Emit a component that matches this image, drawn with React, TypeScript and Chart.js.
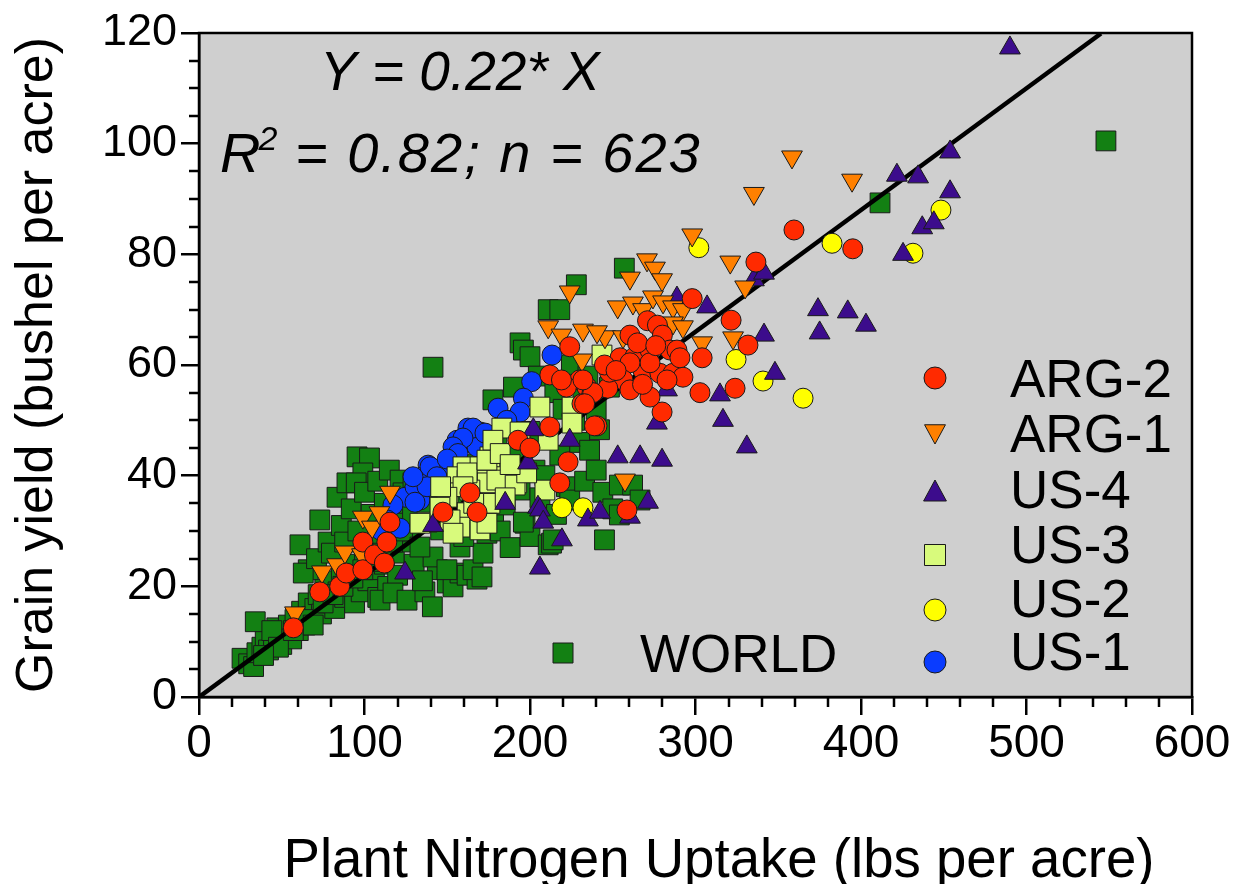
import React, { useEffect, useRef } from "react";
import { Chart, registerables } from "chart.js";
Chart.register(...registerables);

const FONT = "'Liberation Sans', Arial, Helvetica, sans-serif";

// x: plant N uptake (lbs/acre), y: grain yield (bu/acre)
const worldData: number[][] = [
  [26, 7], [30, 6], [33, 5.5], [35, 8], [38, 9], [40, 11], [34, 13.6], [42, 8.5], [45, 10], [47, 12.5],
  [50, 9.5], [52, 11.5], [54, 13], [56, 10.5], [58, 14], [60, 12], [62, 15.5], [64, 13], [66, 17], [68, 14.5],
  [70, 16], [72, 18.5], [74, 15], [76, 19.5], [78, 17], [80, 21], [82, 16], [84, 19], [86, 22], [88, 18],
  [90, 20.5], [92, 24], [94, 17], [96, 22], [98, 19], [100, 25], [102, 21], [104, 27], [106, 23], [108, 18],
  [110, 29], [112, 24], [114, 20], [116, 31], [118, 26], [120, 22], [122, 33], [124, 28], [126, 35], [128, 30],
  [130, 24], [132, 37], [134, 32], [44, 12], [48, 9], [57, 12], [63, 14], [69, 13], [75, 17], [81, 18.5],
  [87, 20], [93, 21.5], [99, 23], [105, 24.5], [111, 26], [117, 28], [123, 30], [129, 33], [136, 36], [39, 7.5],
  [61, 27.5], [73, 32], [83.4, 36.1], [89.4, 38.7], [95.5, 43.4], [103, 43.2], [99, 40.5], [95, 38.7], [66, 23], [63, 22.4],
  [71, 25], [78, 28], [86, 31], [92, 34], [100, 37], [108, 39], [115, 41], [121.5, 39.2], [123.3, 36.9], [129.3, 38.7],
  [80, 26], [88, 28], [96, 30], [104, 33], [112, 35],
  [109.4, 17.5], [117.2, 18.8], [125.7, 17.5], [136.5, 19], [141, 16.3], [144, 23], [150, 20.6], [153.5, 19.9], [157.7, 22.4], [162, 22],
  [168, 21.3], [135, 21], [141.4, 25.3], [133.5, 27.1], [149.8, 23], [157.7, 27.1], [165.6, 23], [171.6, 26], [174, 29.6], [171, 21.7],
  [138, 35], [142, 38], [146, 30.2], [150, 33], [155, 36], [158, 34.7], [163.7, 32], [160, 29], [168, 31], [172, 35],
  [178, 33], [182, 30], [185, 34.7], [188, 27], [194, 37.4], [197, 31.4], [200, 29], [203, 41], [206, 36], [209, 40],
  [211, 27.5], [213, 27.8], [216, 33], [218, 43.7], [222, 38], [224, 35.6], [227, 50], [230, 46], [233, 39], [236, 44.6],
  [240, 41], [242, 48.3], [244, 37], [245, 28.4], [250, 34], [254, 38.3], [254, 32.9], [262, 38.3], [266.5, 35.6],
  [141.4, 59.6], [194, 64], [196, 62.7], [200, 61.5], [211, 70], [218, 70], [228, 74.5], [257, 77.5],
  [177.6, 53.7], [185, 50], [190, 56], [205, 58], [215, 55], [225, 60], [235, 58], [196, 31.6], [214, 28.4],
  [220, 52], [232, 54], [240, 52], [248, 56], [170, 45], [160, 42], [150, 40], [180, 47], [190, 44], [200, 48],
  [411.5, 89.3], [548, 100.5],
];

const us3Data: number[][] = [
  [206, 52.4], [183, 48.6], [194, 47.9], [211, 46.4], [225.4, 52.4], [225.4, 49.5], [159.5, 41.6], [169.8, 41.6], [180, 41.6], [175.8, 43.4],
  [169.8, 39.2], [174, 38.7], [192, 38.7], [155.9, 39.8], [150.5, 36.9], [162, 33.3], [157.7, 30.7], [151.7, 32], [137.8, 31.6], [153.5, 29.6],
  [169.8, 30.2], [175.8, 35], [209, 37.4], [180, 39.2], [162, 39.2], [163.7, 37.4], [177.6, 46.4], [243.5, 61.8], [162, 40.5], [159.5, 38],
  [149.8, 36.1], [174, 42.8], [182, 44], [191, 38.3], [145.6, 34.3], [198, 40.5], [133.5, 31.4], [174, 31.4], [185, 36], [188, 42],
  [166, 35], [146, 38],
];

const us1Data: number[][] = [
  [213.3, 61.8], [201, 57], [196, 54], [180.7, 52.2], [194, 51.5], [162.5, 48.6], [169.8, 47.9], [155.9, 46.4], [162, 45.9], [168, 45.2],
  [138.4, 41.9], [145.6, 41], [141.4, 39.2], [135.3, 39.8], [147.4, 38.7], [129.3, 37], [133.5, 35.6], [124.5, 36.1], [117.2, 34.7], [113.6, 32],
  [165.6, 48.6], [172.8, 47.7], [159.5, 46.8], [153.5, 45.2], [156.5, 44], [139.6, 41.6], [143.8, 39.8], [130.5, 38], [137.8, 38], [129.3, 39.8],
  [130.5, 35.2], [109.4, 30.2], [121.5, 30.5], [186, 50], [150, 43],
];

const us2Data: number[][] = [
  [302, 81.2], [382.5, 82], [448.3, 88], [431.4, 80.2], [324.5, 61], [340.8, 57.1], [365, 54], [219.3, 34.2], [232, 34.2],
];

const us4Data: number[][] = [
  [124.5, 22.4], [141.4, 31], [185, 35], [198.8, 42.3], [202, 48.3], [204.8, 34.3], [206, 33.8], [208, 31.6], [206, 23.3], [219.3, 28.4],
  [224, 46.4], [235, 32], [242.3, 33.4], [253, 43.4], [260.4, 32.5], [266.5, 43.4], [271.3, 35.2], [276.7, 49.5], [279.8, 42.8], [282.8, 55.5],
  [288.8, 72.1], [307, 70.5], [314.8, 54.6], [316.6, 50], [331, 45.2], [335.3, 75.4], [341.4, 76.6], [341.4, 65.4], [348, 58.5], [374, 70],
  [375, 65.8], [392, 69.6], [403, 67.2], [425.4, 80], [437, 84.8], [444, 85.7], [453.8, 91.3], [421.7, 94.3], [434.5, 94], [453.8, 98.5],
  [490, 117.3],
];

const arg1Data: number[][] = [
  [58, 15.2], [74.3, 22.6], [83.4, 23.9], [88.2, 26.2], [98.5, 25.7], [99, 32.5], [104.5, 30.7], [109, 33.3], [115.4, 37], [298, 83.5],
  [321, 78.6], [270.7, 79], [275.5, 77.5], [260.4, 75.7], [279.8, 75.4], [224, 73.2], [211, 66.9], [232, 66.3], [219, 65.4], [245.3, 65.1],
  [253, 70.5], [262.2, 71.2], [268.3, 70], [274.3, 72.3], [280.4, 71.4], [286.4, 70.5], [292.4, 70], [286.4, 67.6], [292.4, 66.9], [304, 64],
  [322.7, 64.9], [256.2, 65.1], [231.4, 60.9], [257.4, 39.2], [240.5, 66], [358.3, 97.6], [394.6, 93.4], [335.3, 91], [330, 74.1],
];

const arg2Data: number[][] = [
  [57, 12.5], [73, 19], [85, 20], [89, 22.4], [99, 23], [99, 28], [106, 25.7], [112, 24.2], [113.5, 28], [115.4, 31.6],
  [147.4, 33.4], [163.7, 36.9], [168, 33.4], [192.7, 46.4], [200, 45], [212, 48.8], [223, 42.5], [218, 38.7], [212, 58.2], [224, 63.3],
  [230, 57.3], [234.4, 56], [237.5, 55], [231.4, 53], [222, 56], [219, 57.3], [240.5, 49], [279.8, 51.5], [258.6, 33.8], [260.4, 65.4],
  [271, 68], [277, 67.2], [280, 65.4], [298, 72], [321.5, 68.1], [336.5, 78.6], [331.7, 63.6], [304, 61.3], [254.4, 61.3], [263.4, 61.5],
  [272.5, 62.7], [284.6, 62.7], [288.8, 62.7], [268.3, 59], [278.5, 58.5], [286.4, 58.5], [292.4, 57.8], [272.5, 60.4], [260.4, 60.4], [256.2, 57.3],
  [260.4, 55.5], [247, 55.8], [238, 55], [232, 57.3], [233, 53], [272.5, 54.2], [282.8, 57.3], [302.7, 55], [323.9, 55.8], [239, 49],
  [248, 58.7], [290.6, 61.3], [359.5, 84.4], [395, 81], [245, 60], [265, 64], [276, 63.5], [268, 56.5], [252, 59],
];

const fitLine: number[][] = [[0, 0], [545, 119.9]];

const xTicksMajor = [0, 100, 200, 300, 400, 500, 600];
const yTicksMajor = [0, 20, 40, 60, 80, 100, 120];

const legendItems = [
  { label: "ARG-2", shape: "circle", color: "#ff2a00" },
  { label: "ARG-1", shape: "down", color: "#ff8000" },
  { label: "US-4", shape: "up", color: "#3c0c8c" },
  { label: "US-3", shape: "square", color: "#d8fa7c" },
  { label: "US-2", shape: "circle", color: "#ffff00" },
  { label: "US-1", shape: "circle", color: "#0a3cff" },
];

const toXY = (arr: number[][]) => arr.map(([x, y]) => ({ x, y }));

function drawShape(ctx: CanvasRenderingContext2D, shape: string, x: number, y: number, s: number, color: string) {
  ctx.save();
  ctx.fillStyle = color;
  ctx.strokeStyle = "#1a1a1a";
  ctx.lineWidth = 1;
  ctx.beginPath();
  if (shape === "circle") {
    ctx.arc(x, y, s, 0, Math.PI * 2);
  } else if (shape === "square") {
    ctx.rect(x - s, y - s, 2 * s, 2 * s);
  } else if (shape === "up") {
    ctx.moveTo(x, y - s);
    ctx.lineTo(x + s * 0.95, y + s * 0.75);
    ctx.lineTo(x - s * 0.95, y + s * 0.75);
    ctx.closePath();
  } else if (shape === "down") {
    ctx.moveTo(x, y + s);
    ctx.lineTo(x + s * 0.95, y - s * 0.75);
    ctx.lineTo(x - s * 0.95, y - s * 0.75);
    ctx.closePath();
  }
  ctx.fill();
  ctx.stroke();
  ctx.restore();
}

const decorPlugin = {
  id: "decor",
  beforeDraw(chart: any) {
    const { ctx, chartArea } = chart;
    const { left, top, right, bottom } = chartArea;
    ctx.save();
    ctx.fillStyle = "#cfcfcf";
    ctx.fillRect(left, top, right - left, bottom - top);
    ctx.restore();
  },
  afterDraw(chart: any) {
    const { ctx, chartArea, scales } = chart;
    const { left, top, right, bottom } = chartArea;
    const xs = scales.x;
    const ys = scales.y;
    ctx.save();
    // plot frame
    ctx.strokeStyle = "#000";
    ctx.lineWidth = 2.5;
    ctx.strokeRect(left, top, right - left, bottom - top);
    // minor ticks
    ctx.lineWidth = 2.5;
    ctx.beginPath();
    for (let v = 20; v < 600; v += 20) {
      if (v % 100 === 0) continue;
      const px = Math.round(xs.getPixelForValue(v));
      ctx.moveTo(px, bottom);
      ctx.lineTo(px, bottom + 10);
    }
    for (let v = 5; v < 120; v += 5) {
      if (v % 20 === 0) continue;
      const py = Math.round(ys.getPixelForValue(v));
      ctx.moveTo(left, py);
      ctx.lineTo(left - 10, py);
    }
    ctx.stroke();

    // x axis title
    ctx.fillStyle = "#000";
    ctx.textAlign = "center";
    ctx.textBaseline = "alphabetic";
    ctx.font = `54.6px ${FONT}`;
    ctx.fillText("Plant Nitrogen Uptake (lbs per acre)", 719, 877);

    // equation annotations
    ctx.textAlign = "left";
    ctx.font = `italic 55px ${FONT}`;
    ctx.fillText("Y = 0.22* X", 320, 90);
    ctx.font = `italic 56px ${FONT}`;
    ctx.fillText("R", 220, 172);
    const wR = ctx.measureText("R").width;
    ctx.font = `italic 34px ${FONT}`;
    ctx.fillText("2", 220 + wR - 2, 150);
    const w2 = ctx.measureText("2").width;
    ctx.font = `italic 56px ${FONT}`;
    (ctx as any).letterSpacing = "2px";
    ctx.fillText(" = 0.82; n = 623", 220 + wR - 2 + w2, 172);
    (ctx as any).letterSpacing = "0px";

    // legend
    ctx.font = `53px ${FONT}`;
    const rows = [
      { my: 378, ty: 397, s: 11 },
      { my: 433, ty: 452, s: 11 },
      { my: 492, ty: 508, s: 12 },
      { my: 555, ty: 563, s: 10.5 },
      { my: 610, ty: 617, s: 11 },
      { my: 662, ty: 670, s: 11 },
    ];
    legendItems.forEach((it, i) => {
      const r = rows[i];
      drawShape(ctx, it.shape, 935, r.my, r.s, it.color);
      ctx.fillStyle = "#000";
      ctx.fillText(it.label, 1010, r.ty);
    });
    drawShape(ctx, "square", 563, 653, 10, "#138013");
    ctx.fillStyle = "#000";
    ctx.fillText("WORLD", 640, 672);
    ctx.restore();
  },
};

export default function App() {
  const ref = useRef<HTMLCanvasElement>(null);
  useEffect(() => {
    document.body.style.margin = "0";
    const common = { borderColor: "#1a1a1a", borderWidth: 1, showLine: false };
    const chart = new Chart(ref.current as HTMLCanvasElement, {
      type: "scatter",
      data: {
        datasets: [
          { label: "ARG-2", data: toXY(arg2Data), backgroundColor: "#ff2a00", pointStyle: "circle", pointRadius: 10, order: 1, ...common },
          { label: "ARG-1", data: toXY(arg1Data), backgroundColor: "#ff8000", pointStyle: "triangle", pointRotation: 180, pointRadius: 12, order: 2, ...common },
          { label: "US-4", data: toXY(us4Data), backgroundColor: "#3c0c8c", pointStyle: "triangle", pointRadius: 12, order: 3, ...common },
          { label: "US-2", data: toXY(us2Data), backgroundColor: "#ffff00", pointStyle: "circle", pointRadius: 10, order: 4, ...common },
          { label: "US-3", data: toXY(us3Data), backgroundColor: "#d8fa7c", pointStyle: "rect", pointRadius: 14, order: 5, ...common },
          { label: "US-1", data: toXY(us1Data), backgroundColor: "#0a3cff", pointStyle: "circle", pointRadius: 10, order: 6, ...common },
          {
            label: "fit", type: "line", data: toXY(fitLine), borderColor: "#000", borderWidth: 4.5,
            pointRadius: 0, showLine: true, fill: false, order: 7,
          } as any,
          { label: "WORLD", data: toXY(worldData), backgroundColor: "#138013", pointStyle: "rect", pointRadius: 14, order: 8, ...common },
        ] as any,
      },
      options: {
        animation: false,
        responsive: false,
        events: [],
        layout: { padding: { top: 33, right: 52, bottom: 0, left: 0 } },
        plugins: { legend: { display: false }, tooltip: { enabled: false } },
        scales: {
          x: {
            type: "linear",
            min: 0,
            max: 600,
            afterFit: (s: any) => { s.height = 187; },
            afterBuildTicks: (s: any) => { s.ticks = xTicksMajor.map((v) => ({ value: v })); },
            ticks: { stepSize: 100, color: "#000", font: { size: 46, family: FONT }, padding: 2, maxRotation: 0, autoSkip: false },
            grid: { display: true, drawOnChartArea: false, drawTicks: true, tickLength: 18, color: "#000", lineWidth: 2.5 },
            border: { display: true, color: "#000", width: 2.5 },
            title: { display: false },
          },
          y: {
            type: "linear",
            min: 0,
            max: 120,
            afterFit: (s: any) => { s.width = 199; },
            afterBuildTicks: (s: any) => { s.ticks = yTicksMajor.map((v) => ({ value: v })); },
            ticks: { stepSize: 20, color: "#000", font: { size: 45, family: FONT }, padding: 4 },
            grid: { display: true, drawOnChartArea: false, drawTicks: true, tickLength: 18, color: "#000", lineWidth: 2.5 },
            border: { display: true, color: "#000", width: 2.5 },
            title: { display: true, text: "Grain yield (bushel per acre)", color: "#000", font: { size: 52, family: FONT, lineHeight: 1 }, padding: { top: 12, bottom: 0 } },
          },
        },
      } as any,
      plugins: [decorPlugin],
    });
    return () => chart.destroy();
  }, []);
  return (
    <div style={{ width: 1244, height: 884 }}>
      <canvas ref={ref} width={1244} height={884} style={{ display: "block" }} />
    </div>
  );
}
